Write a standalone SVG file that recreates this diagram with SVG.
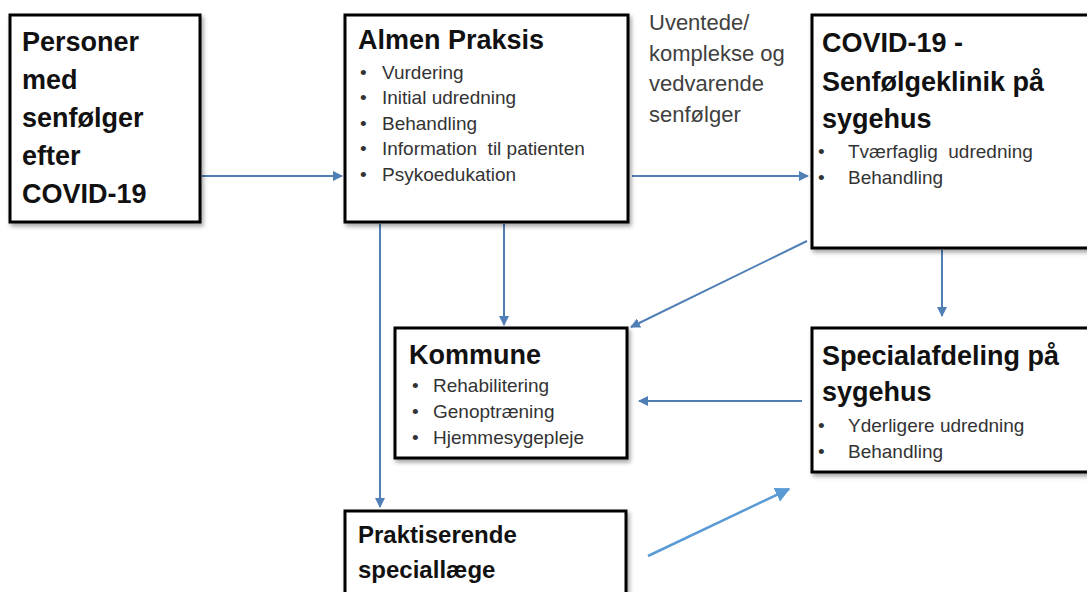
<svg xmlns="http://www.w3.org/2000/svg" width="1087" height="592" viewBox="0 0 1087 592">
<style>
.box{fill:#fff;stroke:#000;stroke-width:3;filter:url(#sh)}
.t{font-family:"Liberation Sans",Arial,sans-serif;font-weight:bold;font-size:27px;fill:#111}
.b{font-family:"Liberation Sans",Arial,sans-serif;font-size:19px;fill:#333}
.lbl{font-family:"Liberation Sans",Arial,sans-serif;font-size:22px;fill:#404040}
.c{stroke:#4f7fb5;stroke-width:2;fill:none;marker-end:url(#ah)}
.c2{stroke:#5b9bd5;stroke-width:2.5;fill:none;marker-end:url(#ah2)}
</style>
<defs>
<filter id="sh" x="-10%" y="-10%" width="130%" height="130%">
<feDropShadow dx="2" dy="3" stdDeviation="2" flood-color="#000" flood-opacity="0.35"/>
</filter>
<marker id="ah" viewBox="0 0 10 10" refX="9" refY="5" markerWidth="5" markerHeight="5" orient="auto" markerUnits="strokeWidth">
<path d="M0,0 L10,5 L0,10 z" fill="#4f7fb5"/>
</marker>
<marker id="ah2" viewBox="0 0 10 10" refX="9" refY="5" markerWidth="6" markerHeight="6" orient="auto" markerUnits="strokeWidth">
<path d="M0,0 L10,5 L0,10 z" fill="#5b9bd5"/>
</marker>
</defs>
<rect width="1087" height="592" fill="#fff"/>
<g id="connectors">
<line class="c" x1="202" y1="176" x2="342" y2="176"/>
<line class="c" x1="632" y1="176" x2="808" y2="176"/>
<line class="c" x1="380" y1="224" x2="380" y2="507"/>
<line class="c" x1="504" y1="224" x2="504" y2="325"/>
<line class="c" x1="807" y1="241" x2="631" y2="327"/>
<line class="c" x1="942" y1="250" x2="942" y2="316"/>
<line class="c" x1="802" y1="401" x2="639" y2="401"/>
<line class="c2" x1="648" y1="556" x2="789" y2="489"/>
</g>
<g id="personer">
<rect class="box" x="10" y="15" width="190" height="207"/>
<text class="t" x="22" y="51">Personer</text>
<text class="t" x="22" y="89">med</text>
<text class="t" x="22" y="127">senfølger</text>
<text class="t" x="22" y="165">efter</text>
<text class="t" x="22" y="203">COVID-19</text>
</g>
<g id="almen">
<rect class="box" x="345" y="15" width="283" height="207"/>
<text class="t" x="358" y="49">Almen Praksis</text>
<text class="b"><tspan x="360" y="79">•</tspan><tspan x="382" y="79">Vurdering</tspan>
<tspan x="360" y="104">•</tspan><tspan x="382" y="104">Initial udredning</tspan>
<tspan x="360" y="130">•</tspan><tspan x="382" y="130">Behandling</tspan>
<tspan x="360" y="155">•</tspan><tspan x="382" y="155">Information&#160; til patienten</tspan>
<tspan x="360" y="181">•</tspan><tspan x="382" y="181">Psykoedukation</tspan></text>
</g>
<g id="label">
<text class="lbl"><tspan x="649" y="30">Uventede/</tspan><tspan x="649" y="61">komplekse og</tspan><tspan x="649" y="91">vedvarende</tspan><tspan x="649" y="122">senfølger</tspan></text>
</g>
<g id="covidklinik">
<rect class="box" x="812" y="15" width="285" height="233"/>
<text class="t" x="822" y="52">COVID-19 -</text>
<text class="t" x="822" y="91">Senfølgeklinik på</text>
<text class="t" x="822" y="128">sygehus</text>
<text class="b"><tspan x="818" y="158">•</tspan><tspan x="848" y="158">Tværfaglig&#160; udredning</tspan>
<tspan x="818" y="184">•</tspan><tspan x="848" y="184">Behandling</tspan></text>
</g>
<g id="kommune">
<rect class="box" x="395" y="328" width="232" height="130"/>
<text class="t" x="409" y="364">Kommune</text>
<text class="b"><tspan x="412" y="392">•</tspan><tspan x="433" y="392">Rehabilitering</tspan>
<tspan x="412" y="418">•</tspan><tspan x="433" y="418">Genoptræning</tspan>
<tspan x="412" y="444">•</tspan><tspan x="433" y="444">Hjemmesygepleje</tspan></text>
</g>
<g id="specialafdeling">
<rect class="box" x="812" y="328" width="285" height="144"/>
<text class="t" x="822" y="365">Specialafdeling på</text>
<text class="t" x="822" y="401">sygehus</text>
<text class="b"><tspan x="818" y="432">•</tspan><tspan x="848" y="432">Yderligere udredning</tspan>
<tspan x="818" y="458">•</tspan><tspan x="848" y="458">Behandling</tspan></text>
</g>
<g id="praktiserende">
<rect class="box" x="345" y="511" width="281" height="100"/>
<text class="t" style="font-size:24px" x="358" y="543">Praktiserende</text>
<text class="t" style="font-size:24px" x="358" y="578">speciallæge</text>
</g>
</svg>
